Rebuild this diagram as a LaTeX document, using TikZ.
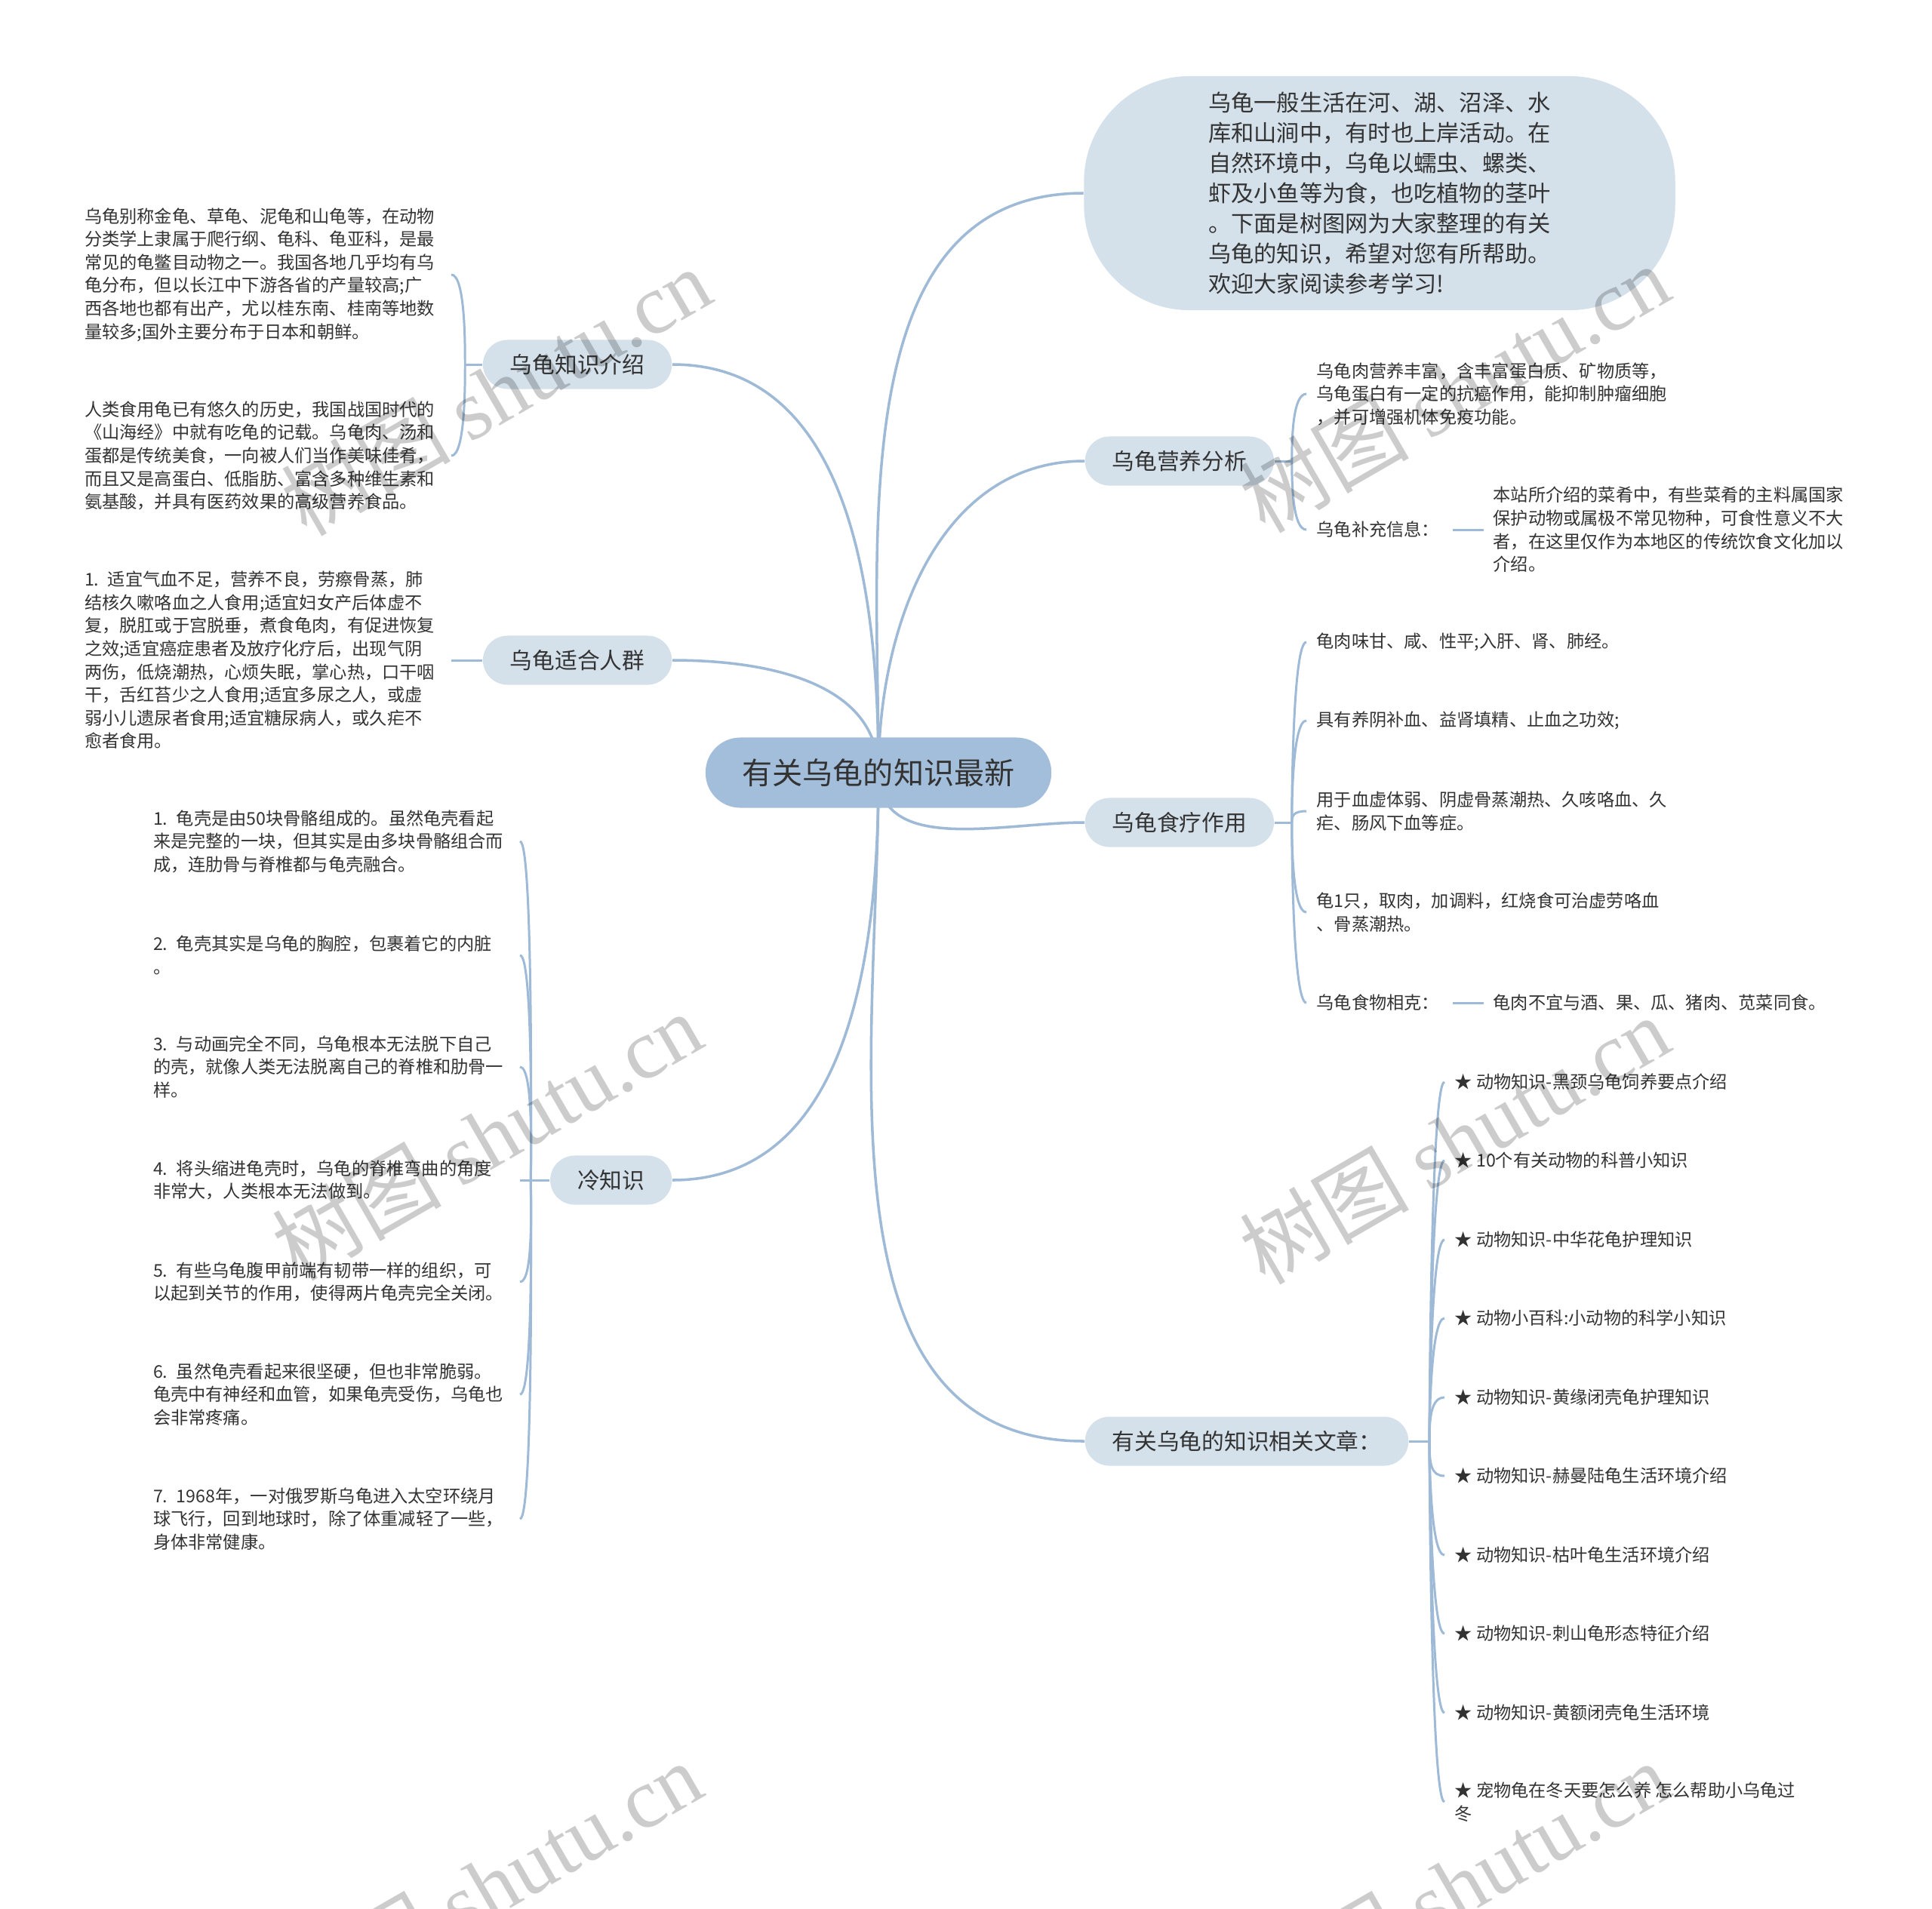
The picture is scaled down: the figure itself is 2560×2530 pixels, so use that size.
\documentclass[tikz,border=0pt]{standalone}
\usepackage{fontspec}
\setmainfont{Noto Sans CJK SC}
\newfontfamily\markfont{Liberation Serif}
\usepackage{xcolor}
\definecolor{rootBlue}{HTML}{A3BEDA}
\definecolor{branchBlue}{HTML}{D4E0EA}
\definecolor{lineBlue}{HTML}{9EBAD6}
\definecolor{textGray}{HTML}{333333}
\usepackage{tikz}
\usetikzlibrary{positioning, calc}
\pgfdeclarelayer{bg}
\pgfsetlayers{bg,main}

\begin{document}
\begin{tikzpicture}[
        x=0.01cm, y=-0.01cm,
        rootNode/.style={
            fill=rootBlue,
            rounded corners=0.46cm,
            minimum width=4.58cm,
            minimum height=0.93cm,
            font=\fontsize{11.4pt}{13pt}\selectfont,
            text=textGray
        },
        noteNode/.style={
            fill=branchBlue,
            rounded corners=1.4cm,
            minimum width=7.83cm,
            minimum height=3.1cm,
            align=left,
            font=\fontsize{8.6pt}{11.4pt}\selectfont,
            text=textGray
        },
        branchNode/.style={
            fill=branchBlue,
            rounded corners=0.325cm,
            minimum height=0.65cm,
            inner xsep=0.36cm,
            font=\fontsize{8.45pt}{10pt}\selectfont,
            text=textGray
        },
        leafNode/.style={
            anchor=west,
            align=left,
            inner xsep=0.13cm,
            inner ysep=0pt,
            font=\fontsize{6.6pt}{8.7pt}\selectfont,
            text=textGray
        },
        leafNodeL/.style={
            leafNode,
            anchor=east,
            text width=4.8cm,
            inner xsep=0.05cm
        },
        trunkLine/.style={lineBlue, line width=1pt},
        twigLine/.style={lineBlue, line width=0.85pt},
        rUp/.style={out=90, in=180, out distance=0.3cm, in distance=0.18cm},
        rDown/.style={out=-90, in=180, out distance=0.3cm, in distance=0.18cm},
        lUp/.style={out=90, in=0, out distance=0.3cm, in distance=0.18cm},
        lDown/.style={out=-90, in=0, out distance=0.3cm, in distance=0.18cm},
        markText/.style={rotate=30, text=black, text opacity=0.2, font=\fontsize{32pt}{32pt}\selectfont}
    ]
    \useasboundingbox (0,0) rectangle (2560,2530);

    % centre and main branches
    \node[rootNode] (root) at (1164,1024) {有关乌龟的知识最新};
    \node[noteNode] (note) at (1828,256) {乌龟一般生活在河、湖、沼泽、水\\库和山涧中，有时也上岸活动。在\\自然环境中，乌龟以蠕虫、螺类、\\虾及小鱼等为食，也吃植物的茎叶\\。下面是树图网为大家整理的有关\\乌龟的知识，希望对您有所帮助。\\欢迎大家阅读参考学习!};
    \node[branchNode, anchor=west] (nutri) at (1437,611) {乌龟营养分析};
    \node[branchNode, anchor=west] (diet) at (1437,1090) {乌龟食疗作用};
    \node[branchNode, anchor=west] (links) at (1437,1910) {有关乌龟的知识相关文章：};
    \node[branchNode, anchor=east] (intro) at (891,483) {乌龟知识介绍};
    \node[branchNode, anchor=east] (crowd) at (891,875) {乌龟适合人群};
    \node[branchNode, anchor=east] (cold) at (891,1564) {冷知识};

    \coordinate (introJ) at ([xshift=-0.23cm]intro.west);
    \coordinate (coldJ) at ([xshift=-0.25cm]cold.west);
    \coordinate (nutriJ) at ([xshift=0.23cm]nutri.east);
    \coordinate (dietJ) at ([xshift=0.23cm]diet.east);
    \coordinate (linksJ) at ([xshift=0.27cm]links.east);

    % left leaves
    \node[leafNodeL] (intro1) at (598,364) {乌龟别称金龟、草龟、泥龟和山龟等，在动物\\分类学上隶属于爬行纲、龟科、龟亚科，是最\\常见的龟鳖目动物之一。我国各地几乎均有乌\\龟分布，但以长江中下游各省的产量较高;广\\西各地也都有出产，尤以桂东南、桂南等地数\\量较多;国外主要分布于日本和朝鲜。};
    \node[leafNodeL] (intro2) at (598,604) {人类食用龟已有悠久的历史，我国战国时代的\\《山海经》中就有吃龟的记载。乌龟肉、汤和\\蛋都是传统美食，一向被人们当作美味佳肴，\\而且又是高蛋白、低脂肪、富含多种维生素和\\氨基酸，并具有医药效果的高级营养食品。};
    \node[leafNodeL] (crowd1) at (598,875) {1. 适宜气血不足，营养不良，劳瘵骨蒸，肺\\结核久嗽咯血之人食用;适宜妇女产后体虚不\\复，脱肛或于宫脱垂，煮食龟肉，有促进恢复\\之效;适宜癌症患者及放疗化疗后，出现气阴\\两伤，低烧潮热，心烦失眠，掌心热，口干咽\\干，舌红苔少之人食用;适宜多尿之人，或虚\\弱小儿遗尿者食用;适宜糖尿病人，或久疟不\\愈者食用。};
    \node[leafNodeL] (cold1) at (689,1115) {1. 龟壳是由50块骨骼组成的。虽然龟壳看起\\来是完整的一块，但其实是由多块骨骼组合而\\成，连肋骨与脊椎都与龟壳融合。};
    \node[leafNodeL] (cold2) at (689,1266) {2. 龟壳其实是乌龟的胸腔，包裹着它的内脏\\。};
    \node[leafNodeL] (cold3) at (689,1414) {3. 与动画完全不同，乌龟根本无法脱下自己\\的壳，就像人类无法脱离自己的脊椎和肋骨一\\样。};
    \node[leafNodeL] (cold4) at (689,1564) {4. 将头缩进龟壳时，乌龟的脊椎弯曲的角度\\非常大，人类根本无法做到。};
    \node[leafNodeL] (cold5) at (689,1699) {5. 有些乌龟腹甲前端有韧带一样的组织，可\\以起到关节的作用，使得两片龟壳完全关闭。};
    \node[leafNodeL] (cold6) at (689,1848) {6. 虽然龟壳看起来很坚硬，但也非常脆弱。\\龟壳中有神经和血管，如果龟壳受伤，乌龟也\\会非常疼痛。};
    \node[leafNodeL] (cold7) at (689,2013) {7. 1968年，一对俄罗斯乌龟进入太空环绕月\\球飞行，回到地球时，除了体重减轻了一些，\\身体非常健康。};

    % right leaves
    \node[leafNode] (n1) at (1731,522) {乌龟肉营养丰富，含丰富蛋白质、矿物质等，\\乌龟蛋白有一定的抗癌作用，能抑制肿瘤细胞\\，并可增强机体免疫功能。};
    \node[leafNode] (n2) at (1731,702) {乌龟补充信息：};
    \node[leafNode, inner xsep=0.12cm, right=0.45cm of n2] (n2x) {本站所介绍的菜肴中，有些菜肴的主料属国家\\保护动物或属极不常见物种，可食性意义不大\\者，在这里仅作为本地区的传统饮食文化加以\\介绍。};
    \node[leafNode] (d1) at (1731,851) {龟肉味甘、咸、性平;入肝、肾、肺经。};
    \node[leafNode] (d2) at (1731,955) {具有养阴补血、益肾填精、止血之功效;};
    \node[leafNode] (d3) at (1731,1075) {用于血虚体弱、阴虚骨蒸潮热、久咳咯血、久\\疟、肠风下血等症。};
    \node[leafNode] (d4) at (1731,1209) {龟1只，取肉，加调料，红烧食可治虚劳咯血\\、骨蒸潮热。};
    \node[leafNode] (d5) at (1731,1329) {乌龟食物相克：};
    \node[leafNode, inner xsep=0.12cm, right=0.45cm of d5] (d5x) {龟肉不宜与酒、果、瓜、猪肉、苋菜同食。};
    \node[leafNode] (a1) at (1914,1434) {★ 动物知识-黑颈乌龟饲养要点介绍};
    \node[leafNode] (a2) at (1914,1538) {★ 10个有关动物的科普小知识};
    \node[leafNode] (a3) at (1914,1643) {★ 动物知识-中华花龟护理知识};
    \node[leafNode] (a4) at (1914,1747) {★ 动物小百科:小动物的科学小知识};
    \node[leafNode] (a5) at (1914,1852) {★ 动物知识-黄缘闭壳龟护理知识};
    \node[leafNode] (a6) at (1914,1956) {★ 动物知识-赫曼陆龟生活环境介绍};
    \node[leafNode] (a7) at (1914,2061) {★ 动物知识-枯叶龟生活环境介绍};
    \node[leafNode] (a8) at (1914,2165) {★ 动物知识-刺山龟形态特征介绍};
    \node[leafNode] (a9) at (1914,2270) {★ 动物知识-黄额闭壳龟生活环境};
    \node[leafNode] (a10) at (1914,2388) {★ 宠物龟在冬天要怎么养 怎么帮助小乌龟过\\冬};

    \begin{pgfonlayer}{bg}
        \fill[white] (0,0) rectangle (2560,2530);
        % trunk lines
        \draw[trunkLine] (root.center) to[out=90, in=180] (note.west);
        \draw[trunkLine] (root.center) to[out=90, in=180] (nutri.west);
        \draw[trunkLine] (root.center) to[out=-90, in=180] (diet.west);
        \draw[trunkLine] (root.center) to[out=-90, in=180] (links.west);
        \draw[trunkLine] (root.center) to[out=90, in=0] (intro.east);
        \draw[trunkLine] (root.center) to[out=90, in=0] (crowd.east);
        \draw[trunkLine] (root.center) to[out=-90, in=0] (cold.east);

        % twigs, left side
        \draw[twigLine] (intro.west) -- (introJ);
        \draw[twigLine] (introJ) to[lUp] (intro1.east);
        \draw[twigLine] (introJ) to[lDown] (intro2.east);
        \draw[twigLine] (crowd.west) -- (crowd1.east);
        \draw[twigLine] (cold.west) -- (coldJ);
        \draw[twigLine] (coldJ) to[lUp] (cold1.east);
        \draw[twigLine] (coldJ) to[lUp] (cold2.east);
        \draw[twigLine] (coldJ) to[lUp] (cold3.east);
        \draw[twigLine] (coldJ) -- (cold4.east);
        \draw[twigLine] (coldJ) to[lDown] (cold5.east);
        \draw[twigLine] (coldJ) to[lDown] (cold6.east);
        \draw[twigLine] (coldJ) to[lDown] (cold7.east);

        % twigs, right side
        \draw[twigLine] (nutri.east) -- (nutriJ);
        \draw[twigLine] (nutriJ) to[rUp] (n1.west);
        \draw[twigLine] (nutriJ) to[rDown] (n2.west);
        \draw[twigLine, shorten <=0.04cm] (n2.east) -- (n2x.west);
        \draw[twigLine] (diet.east) -- (dietJ);
        \draw[twigLine] (dietJ) to[rUp] (d1.west);
        \draw[twigLine] (dietJ) to[rUp] (d2.west);
        \draw[twigLine] (dietJ) to[rUp, out distance=0.08cm] (d3.west);
        \draw[twigLine] (dietJ) to[rDown] (d4.west);
        \draw[twigLine] (dietJ) to[rDown] (d5.west);
        \draw[twigLine, shorten <=0.04cm] (d5.east) -- (d5x.west);
        \draw[twigLine] (links.east) -- (linksJ);
        \draw[twigLine] (linksJ) to[rUp] (a1.west);
        \draw[twigLine] (linksJ) to[rUp] (a2.west);
        \draw[twigLine] (linksJ) to[rUp] (a3.west);
        \draw[twigLine] (linksJ) to[rUp] (a4.west);
        \draw[twigLine] (linksJ) to[rUp] (a5.west);
        \draw[twigLine] (linksJ) to[rDown] (a6.west);
        \draw[twigLine] (linksJ) to[rDown] (a7.west);
        \draw[twigLine] (linksJ) to[rDown] (a8.west);
        \draw[twigLine] (linksJ) to[rDown] (a9.west);
        \draw[twigLine] (linksJ) to[rDown] (a10.west);
    \end{pgfonlayer}

    % watermark
    \node[markText] (mark1) at (657,518) {树图 {\markfont shutu.cn}};
    \node[markText] (mark2) at (1927,514) {树图 {\markfont shutu.cn}};
    \node[markText] (mark3) at (645,1505) {树图 {\markfont shutu.cn}};
    \node[markText] (mark4) at (1927,1510) {树图 {\markfont shutu.cn}};
    \node[markText] (mark5) at (645,2498) {树图 {\markfont shutu.cn}};
    \node[markText] (mark6) at (1927,2498) {树图 {\markfont shutu.cn}};
\end{tikzpicture}
\end{document}
